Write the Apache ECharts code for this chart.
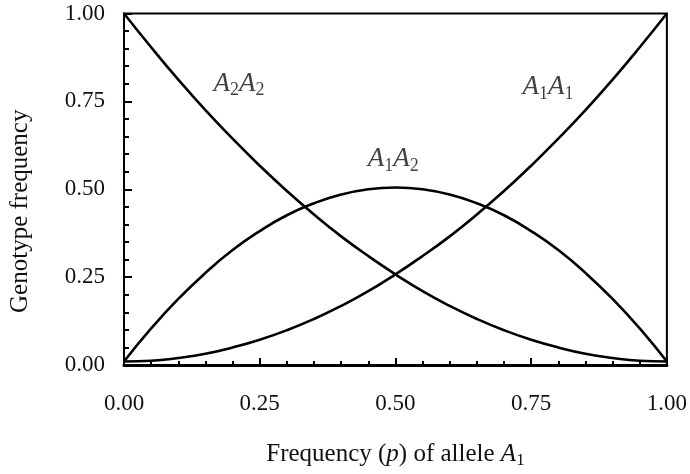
<!DOCTYPE html>
<html>
<head>
<meta charset="utf-8">
<script src="https://cdn.jsdelivr.net/npm/echarts@6/dist/echarts.min.js"></script>
<style>
html,body{margin:0;padding:0;background:#fff;}
#chart{width:690px;height:474px;}
</style>
</head>
<body>
<div id="chart"></div>
<script>
var pValues = [0, 0.05, 0.10, 0.15, 0.20, 0.25, 0.30, 0.35, 0.40, 0.45, 0.50, 0.55, 0.60, 0.65, 0.70, 0.75, 0.80, 0.85, 0.90, 0.95, 1.00];
var freqA1A1 = [0.010, 0.012, 0.020, 0.032, 0.050, 0.072, 0.099, 0.131, 0.168, 0.210, 0.258, 0.310, 0.366, 0.428, 0.495, 0.567, 0.644, 0.725, 0.812, 0.904, 1.000];
var freqA1A2 = [0.010, 0.104, 0.188, 0.262, 0.327, 0.381, 0.426, 0.460, 0.485, 0.500, 0.505, 0.500, 0.485, 0.460, 0.426, 0.381, 0.327, 0.262, 0.188, 0.104, 0.010];
var freqA2A2 = [1.000, 0.904, 0.812, 0.725, 0.644, 0.567, 0.495, 0.428, 0.366, 0.310, 0.258, 0.210, 0.168, 0.131, 0.099, 0.072, 0.050, 0.032, 0.020, 0.012, 0.010];
var curveNames = ['A1A1', 'A1A2', 'A2A2'];
var labelText = ['{i|A}{s|1}{i|A}{s|1}', '{i|A}{s|1}{i|A}{s|2}', '{i|A}{s|2}{i|A}{s|2}'];
var labelX = [0.781, 0.496, 0.212];
var labelY = [0.790, 0.585, 0.800];
var xTitle = '{n|Frequency (}{i|p}{n|) of allele }{i|A}{s|1}';
var yTitle = 'Genotype frequency';

var FONT = '"Liberation Serif", "DejaVu Serif", serif';
var titleRich = {
  n: {fontFamily: FONT, fontSize: 25, color: '#111', verticalAlign: 'top', lineHeight: 26},
  i: {fontFamily: FONT, fontSize: 25, fontStyle: 'italic', color: '#111', verticalAlign: 'top', lineHeight: 26},
  s: {fontFamily: FONT, fontSize: 17, color: '#111', verticalAlign: 'top', lineHeight: 26, padding: [10, 0, 0, 0]}
};
var curveRich = {
  i: {fontFamily: FONT, fontSize: 27, fontStyle: 'italic', color: '#111', verticalAlign: 'top', lineHeight: 27},
  s: {fontFamily: FONT, fontSize: 18, color: '#111', verticalAlign: 'top', lineHeight: 27, padding: [11, 0, 0, 0]}
};

function pairs(ys) { return pValues.map(function (p, k) { return [p, ys[k]]; }); }

var chart = echarts.init(document.getElementById('chart'), null, {renderer: 'canvas'});
var lineStyle = {color: '#000', width: 2.6};
chart.setOption({
  animation: false,
  backgroundColor: '#fff',
  grid: {left: 120.5, right: 23, top: 13.5, bottom: 102, show: true, borderColor: '#000', borderWidth: 2, backgroundColor: 'transparent'},
  xAxis: {
    type: 'value', min: 0, max: 1, interval: 0.25,
    axisLine: {show: true, onZero: false, lineStyle: {color: '#000', width: 3}},
    axisTick: {show: true, inside: true, length: 7, lineStyle: {color: '#000', width: 2}},
    minorTick: {show: true, splitNumber: 5, length: 4, lineStyle: {color: '#000', width: 2}},
    splitLine: {show: false},
    axisLabel: {margin: 27, fontFamily: FONT, fontSize: 23, color: '#111', formatter: function (v) { return v.toFixed(2); }},
    name: xTitle, nameLocation: 'middle', nameGap: 77,
    nameTextStyle: {rich: titleRich}
  },
  yAxis: {
    type: 'value', min: 0, max: 1, interval: 0.25,
    axisLine: {show: true, onZero: false, lineStyle: {color: '#000', width: 2}},
    axisTick: {show: true, inside: true, length: 8, lineStyle: {color: '#000', width: 2}},
    minorTick: {show: true, splitNumber: 5, length: 5, lineStyle: {color: '#000', width: 2}},
    splitLine: {show: false},
    axisLabel: {margin: 19, fontFamily: FONT, fontSize: 23, color: '#111', formatter: function (v) { return v.toFixed(2); }},
    name: yTitle, nameLocation: 'middle', nameGap: 91,
    nameTextStyle: {fontFamily: FONT, fontSize: 25, color: '#111', padding: [0, 44, 0, 0]}
  },
  series: [
    {name: curveNames[0], type: 'line', data: pairs(freqA1A1), smooth: true, showSymbol: false, lineStyle: lineStyle},
    {name: curveNames[1], type: 'line', data: pairs(freqA1A2), smooth: true, showSymbol: false, lineStyle: lineStyle},
    {name: curveNames[2], type: 'line', data: pairs(freqA2A2), smooth: true, showSymbol: false, lineStyle: lineStyle},
    {
      type: 'scatter', symbolSize: 0, silent: true,
      data: labelX.map(function (x, k) { return {value: [x, labelY[k]], label: {formatter: labelText[k]}}; }),
      label: {show: true, position: 'inside', color: '#111', rich: curveRich}
    }
  ]
});
</script>
</body>
</html>
